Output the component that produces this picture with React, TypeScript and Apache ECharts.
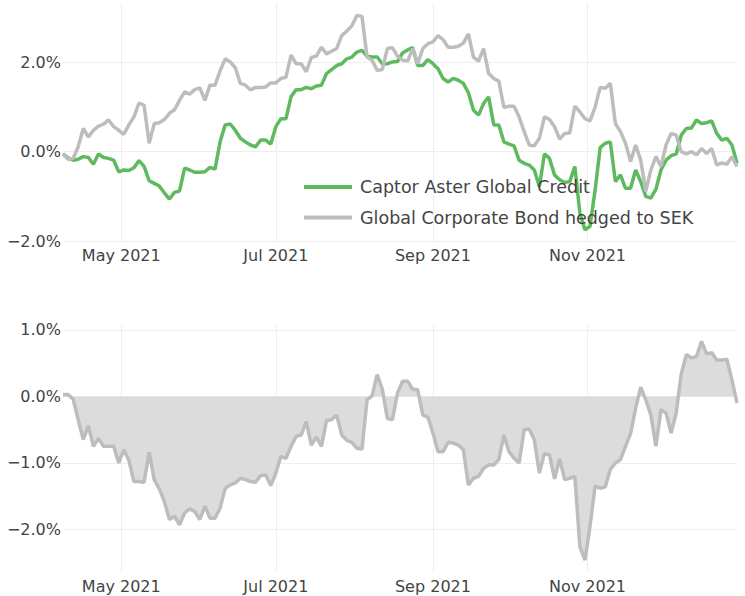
import React, { useEffect, useRef } from "react";
import * as echarts from "echarts";

const SERIES_NAMES = ["Captor Aster Global Credit", "Global Corporate Bond hedged to SEK"];
const START_DATE = [2021, 3, 8]; // 2021-04-08
const STEP_DAYS = 2;
const X_TICKS = ["2021-05-01", "2021-07-01", "2021-09-01", "2021-11-01"];
const MONTHS = ["Jan", "Feb", "Mar", "Apr", "May", "Jun", "Jul", "Aug", "Sep", "Oct", "Nov", "Dec"];
const TOP_Y_TICKS = [-2, 0, 2];
const BOTTOM_Y_TICKS = [-2, -1, 0, 1];

const captor = [
  -0.05, -0.14, -0.19, -0.17, -0.11, -0.13, -0.28, -0.05, -0.13, -0.15,
  -0.19, -0.45, -0.41, -0.42, -0.36, -0.2, -0.33, -0.65, -0.71, -0.77,
  -0.92, -1.06, -0.91, -0.88, -0.37, -0.41, -0.46, -0.46, -0.45, -0.35,
  -0.39, 0.22, 0.6, 0.62, 0.48, 0.3, 0.22, 0.15, 0.11, 0.26,
  0.26, 0.17, 0.56, 0.74, 0.74, 1.23, 1.39, 1.39, 1.44, 1.41,
  1.47, 1.49, 1.75, 1.84, 1.93, 1.97, 2.08, 2.12, 2.23, 2.27,
  2.14, 2.12, 2.12, 1.97, 1.97, 2.01, 2.02, 2.21, 2.28, 2.33,
  1.93, 1.93, 2.06, 1.97, 1.86, 1.64, 1.56, 1.64, 1.6, 1.53,
  1.32, 0.93, 0.82, 1.08, 1.23, 0.6, 0.6, 0.22, 0.17, 0.13,
  -0.19, -0.26, -0.3, -0.41, -0.78, -0.05, -0.15, -0.52, -0.63, -0.69,
  -0.67, -0.33, -1.38, -1.75, -1.67, -0.86, 0.09, 0.19, 0.22, -0.67,
  -0.52, -0.82, -0.82, -0.41, -0.67, -1.0, -1.04, -0.84, -0.41, -0.19,
  -0.09, -0.05, 0.37, 0.52, 0.53, 0.71, 0.63, 0.65, 0.69, 0.41,
  0.26, 0.3, 0.15, -0.26,
];

const benchmark = [
  -0.05, -0.17, -0.15, 0.11, 0.52, 0.33, 0.48, 0.57, 0.62, 0.71,
  0.56, 0.48, 0.39, 0.6, 0.78, 1.09, 1.04, 0.19, 0.63, 0.65,
  0.72, 0.86, 0.94, 1.15, 1.34, 1.29, 1.39, 1.43, 1.15, 1.49,
  1.49, 1.81, 2.08, 2.01, 1.88, 1.53, 1.49, 1.38, 1.44, 1.44,
  1.45, 1.54, 1.54, 1.64, 1.67, 2.16, 1.97, 1.97, 1.79, 2.11,
  2.14, 2.34, 2.19, 2.25, 2.31, 2.6, 2.7, 2.82, 3.05, 3.03,
  2.12, 2.05, 1.82, 1.84, 2.31, 2.33, 2.14, 2.05, 2.03, 2.31,
  1.97, 2.31, 2.42, 2.46, 2.6, 2.51, 2.34, 2.34, 2.36, 2.43,
  2.64, 2.12, 2.03, 2.31, 1.75, 1.64, 1.58, 0.99, 1.02, 1.02,
  0.78, 0.45, 0.15, 0.13, 0.3, 0.78, 0.72, 0.56, 0.28, 0.41,
  0.42, 1.02, 0.89, 0.74, 0.69, 1.0, 1.44, 1.42, 1.53, 0.63,
  0.45, 0.19, -0.22, 0.15, -0.19, -0.89, -0.41, -0.11, -0.33, 0.15,
  0.41, 0.37, 0.0, -0.05, 0.0, -0.07, 0.07, -0.04, 0.07, -0.3,
  -0.25, -0.28, -0.11, -0.33,
];

const difference = [
  0.03, 0.03, -0.04, -0.35, -0.65, -0.44, -0.75, -0.63, -0.75, -0.75,
  -0.75, -1.0, -0.8, -0.96, -1.28, -1.28, -1.29, -0.84, -1.25, -1.39,
  -1.58, -1.85, -1.8, -1.93, -1.75, -1.69, -1.73, -1.85, -1.65, -1.83,
  -1.83, -1.68, -1.38, -1.33, -1.3, -1.23, -1.25, -1.28, -1.29, -1.19,
  -1.18, -1.34, -1.15, -0.9, -0.93, -0.75, -0.6, -0.58, -0.38, -0.73,
  -0.61, -0.75, -0.36, -0.35, -0.28, -0.58, -0.66, -0.69, -0.78, -0.79,
  -0.05, 0.01, 0.33, 0.11, -0.33, -0.35, 0.05, 0.23, 0.23, 0.11,
  0.1, -0.28, -0.31, -0.55, -0.83, -0.83, -0.69, -0.7, -0.73, -0.8,
  -1.33, -1.23, -1.2, -1.08, -1.03, -1.03, -0.95, -0.58, -0.83, -0.93,
  -1.0, -0.5, -0.49, -0.65, -1.15, -0.86, -0.88, -1.24, -0.94, -1.25,
  -1.23, -1.2, -2.26, -2.46, -1.95, -1.35, -1.38, -1.36, -1.1, -1.0,
  -0.95, -0.75, -0.56, -0.18, 0.14, -0.05, -0.28, -0.75, -0.2, -0.25,
  -0.55, -0.25, 0.34, 0.63, 0.58, 0.6, 0.83, 0.64, 0.66, 0.55,
  0.55, 0.56, 0.25, -0.1,
];

const FONT = "DejaVu Sans";
const TEXT_COLOR = "#444444";
const GRID_COLOR = "#eeeeee";
const GREEN = "#5fba5f";
const GREY = "#bdbdbd";
const FILL = "#dcdcdc";

export default function App() {
  const ref = useRef<HTMLDivElement>(null);

  useEffect(() => {
    if (!ref.current) return;
    const chart = echarts.init(ref.current, undefined, { renderer: "svg" });

    const t0 = Date.UTC(START_DATE[0], START_DATE[1], START_DATE[2]);
    const dates = captor.map((_, i) => t0 + i * STEP_DAYS * 86400000);
    const xTicks = X_TICKS.map((s) => Date.parse(s + "T00:00:00Z"));
    const xFmt = (v: number) => {
      const d = new Date(v);
      return MONTHS[d.getUTCMonth()] + " " + d.getUTCFullYear();
    };
    const yFmt = (v: number) =>
      (v < 0 ? "\u2212" : "") + Math.abs(v).toFixed(1) + "%";

    const xAxis = [0, 1].map((i) => ({
      type: "value",
      gridIndex: i,
      min: dates[0],
      max: dates[dates.length - 1],
      axisLine: { show: false },
      axisTick: { show: false, customValues: xTicks },
      splitLine: { show: true, lineStyle: { color: GRID_COLOR, width: 1 } },
      axisLabel: {
        customValues: xTicks,
        formatter: xFmt,
        color: TEXT_COLOR,
        fontSize: 16,
        fontFamily: FONT,
        margin: 6,
        hideOverlap: false,
        showMinLabel: true,
        showMaxLabel: true,
      },
    }));

    const yAxisBase = (i: number, min: number, max: number, ticks: number[]) => ({
      type: "value",
      gridIndex: i,
      min,
      max,
      axisLine: { show: false },
      axisTick: { show: false, customValues: ticks },
      splitLine: { show: true, lineStyle: { color: GRID_COLOR, width: 1 } },
      axisLabel: {
        customValues: ticks,
        formatter: yFmt,
        color: TEXT_COLOR,
        fontSize: 16,
        fontFamily: FONT,
        margin: 2,
      },
    });

    chart.setOption({
      animation: false,
      textStyle: { fontFamily: FONT },
      grid: [
        { left: 63, right: 8, top: 3, height: 238 },
        { left: 63, right: 8, top: 325, height: 247 },
      ],
      legend: {
        data: SERIES_NAMES,
        orient: "vertical",
        left: 304,
        top: 178,
        padding: 0,
        icon: "rect",
        itemWidth: 48,
        itemHeight: 4,
        itemGap: 12.5,
        textStyle: { color: TEXT_COLOR, fontSize: 17.5, fontFamily: FONT, padding: [0, 0, 0, 3] },
      },
      xAxis,
      yAxis: [
        yAxisBase(0, -2, 3.33, TOP_Y_TICKS),
        yAxisBase(1, -2.64, 1.075, BOTTOM_Y_TICKS),
      ],
      series: [
        {
          name: SERIES_NAMES[0],
          type: "line",
          xAxisIndex: 0,
          yAxisIndex: 0,
          data: dates.map((d, i) => [d, captor[i]]),
          showSymbol: false,
          symbol: "none",
          color: GREEN,
          lineStyle: { color: GREEN, width: 3.5 },
        },
        {
          name: SERIES_NAMES[1],
          type: "line",
          xAxisIndex: 0,
          yAxisIndex: 0,
          data: dates.map((d, i) => [d, benchmark[i]]),
          showSymbol: false,
          symbol: "none",
          color: GREY,
          lineStyle: { color: GREY, width: 3.5 },
        },
        {
          name: "Difference",
          type: "line",
          xAxisIndex: 1,
          yAxisIndex: 1,
          data: dates.map((d, i) => [d, difference[i]]),
          showSymbol: false,
          symbol: "none",
          color: GREY,
          lineStyle: { color: GREY, width: 3.5 },
          areaStyle: { color: FILL, opacity: 1, origin: 0 },
        },
      ],
    });

    return () => chart.dispose();
  }, []);

  return <div ref={ref} style={{ width: 745, height: 596, position: "absolute", left: 0, top: 0 }} />;
}
